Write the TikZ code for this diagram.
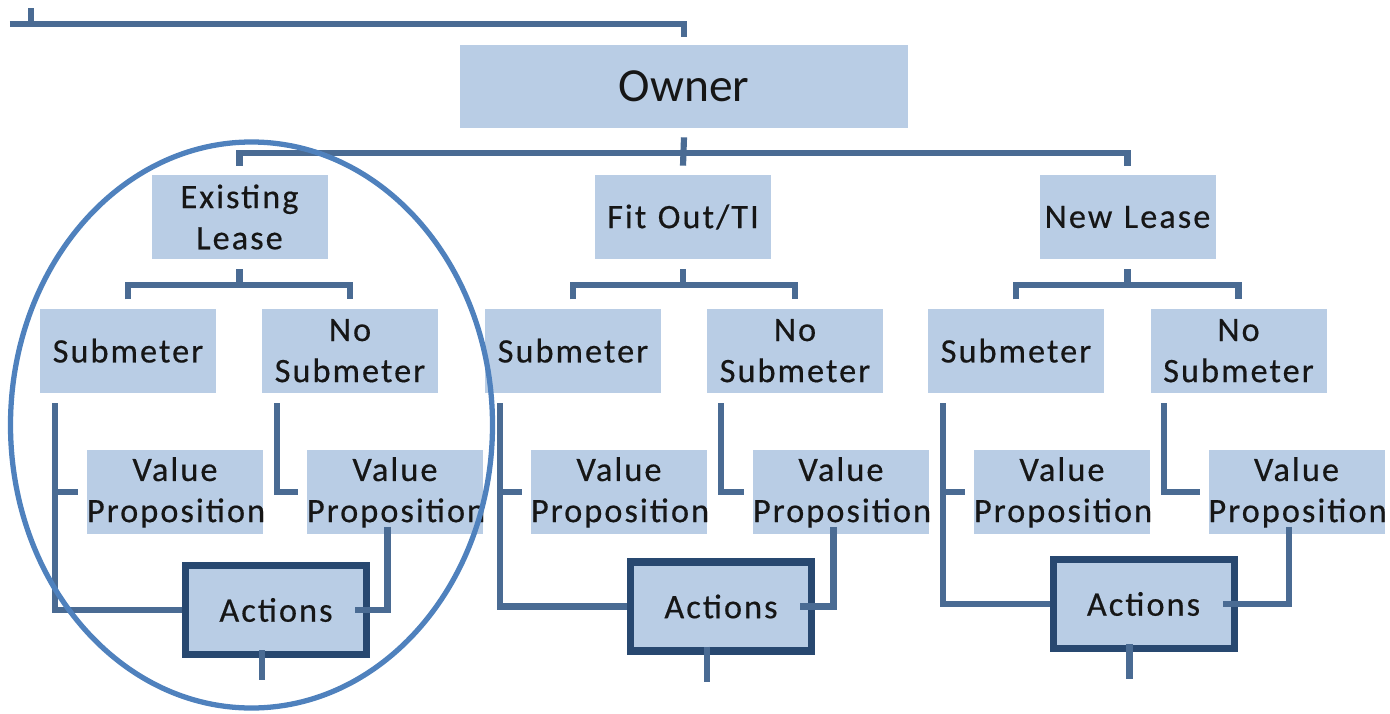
\documentclass[tikz,border=0pt]{standalone}
\usepackage{fontspec}
\setmainfont{Carlito}
\newfontfamily\chartfont[LetterSpace=6,FakeBold=0.4]{Carlito}
\usetikzlibrary{positioning}
\definecolor{boxblue}{HTML}{B9CDE5}
\definecolor{linkblue}{HTML}{4A6B93}
\definecolor{actnavy}{HTML}{284870}
\definecolor{ringblue}{HTML}{4F81BD}
\definecolor{inkdark}{HTML}{161616}

\begin{document}
\begin{tikzpicture}[
  font=\chartfont\fontsize{19.5}{23.4}\selectfont, text=inkdark,
  box/.style={fill=boxblue,align=center,inner sep=0pt,
              text width=35.2mm,minimum height=16.8mm},
  head/.style={box,font=\normalfont\fontsize{27}{33}\selectfont,
               text width=89.6mm,minimum height=16.6mm},
  act/.style={box,draw=actnavy,line width=4pt,text width=36.2mm,minimum height=17.8mm},
  link/.style={draw=linkblue,line width=3.5pt},
  ring/.style={draw=ringblue,line width=3pt},
]
\useasboundingbox (0,0) rectangle (27.8,-14.26);

\node[head] (owner) at (13.68,-1.73) {Owner};

% ---- existing lease
\node[box] (exist) at (4.79,-4.34) {Existing\\Lease};
\node[box,below=9.8mm of exist,xshift=-22.3mm] (esub) {Submeter};
\node[box,below=9.8mm of exist,xshift=22.1mm] (enos) {No\\Submeter};
\node[box,below=11.4mm of esub,xshift=9.4mm] (evs) {Value\\Proposition};
\node[box,below=11.4mm of enos,xshift=9mm] (evn) {Value\\Proposition};
\node[act] (eact) at (5.52,-12.2) {Actions};

% ---- fit out
\node[box] (fit) at (13.66,-4.34) {Fit Out/TI};
\node[box,below=9.8mm of fit,xshift=-22mm] (fsub) {Submeter};
\node[box,below=9.8mm of fit,xshift=22.4mm] (fnos) {No\\Submeter};
\node[box,below=11.4mm of fsub,xshift=9.2mm] (fvs) {Value\\Proposition};
\node[box,below=11.4mm of fnos,xshift=9.2mm] (fvn) {Value\\Proposition};
\node[act] (fact) at (14.42,-12.13) {Actions};

% ---- new lease
\node[box] (newl) at (22.55,-4.34) {New Lease};
\node[box,below=9.8mm of newl,xshift=-22.3mm] (nsub) {Submeter};
\node[box,below=9.8mm of newl,xshift=22.2mm] (nnos) {No\\Submeter};
\node[box,below=11.4mm of nsub,xshift=9.2mm] (nvs) {Value\\Proposition};
\node[box,below=11.4mm of nnos,xshift=11.6mm] (nvn) {Value\\Proposition};
\node[act] (nact) at (22.87,-12.08) {Actions};

% ---- trunk above the owner
\coordinate (trunk) at (0.2,-0.48);
\coordinate (tick) at (0.62,-0.16);
\draw[link] (trunk) -| ([yshift=1.6mm]owner.north);
\draw[link] (tick) -- (tick |- trunk);

% owner to the three lease cases
\draw[link] ([yshift=1.8mm]exist.north) |- ([yshift=-5mm]owner.south) -| ([yshift=1.8mm]newl.north);
\draw[link] ([yshift=-1.8mm]owner.south) -- ([yshift=1.8mm]fit.north);

% existing lease branch
\draw[link] ([yshift=1.8mm]esub.north) |- ([yshift=-5.2mm]exist.south) -| ([yshift=1.8mm]enos.north);
\draw[link] ([yshift=-2mm]exist.south) -- ([yshift=-5.2mm]exist.south);
\coordinate (ebus) at ([xshift=3mm,yshift=-2mm]esub.south west);
\draw[link] (ebus) |- (eact.west);
\draw[link] (ebus |- evs.west) -- ([xshift=-1.7mm]evs.west);
\draw[link] ([xshift=3mm,yshift=-2mm]enos.south west) |- ([xshift=-1.7mm]evn.west);
\draw[link] ([xshift=-1.5mm,yshift=1.6mm]evn.south) |- ([xshift=-3mm]eact.east);
\draw[link] ([xshift=-2.8mm,yshift=1.6mm]eact.south) -- ++(0,-6mm);

% fit out branch
\draw[link] ([yshift=1.8mm]fsub.north) |- ([yshift=-5.2mm]fit.south) -| ([yshift=1.8mm]fnos.north);
\draw[link] ([yshift=-2mm]fit.south) -- ([yshift=-5.2mm]fit.south);
\coordinate (fbus) at ([xshift=3mm,yshift=-2mm]fsub.south west);
\draw[link] (fbus) |- (fact.west);
\draw[link] (fbus |- fvs.west) -- ([xshift=-1.7mm]fvs.west);
\draw[link] ([xshift=2.8mm,yshift=-2mm]fnos.south west) |- ([xshift=-1.7mm]fvn.west);
\draw[link] ([xshift=-1.5mm,yshift=1.6mm]fvn.south) |- ([xshift=-3mm]fact.east);
\draw[link] ([xshift=-2.8mm,yshift=1.6mm]fact.south) -- ++(0,-7mm);

% new lease branch
\draw[link] ([yshift=1.8mm]nsub.north) |- ([yshift=-5.2mm]newl.south) -| ([yshift=1.8mm]nnos.north);
\draw[link] ([yshift=-2mm]newl.south) -- ([yshift=-5.2mm]newl.south);
\coordinate (nbus) at ([xshift=3mm,yshift=-2mm]nsub.south west);
\draw[link] (nbus) |- (nact.west);
\draw[link] (nbus |- nvs.west) -- ([xshift=-1.7mm]nvs.west);
\draw[link] ([xshift=2.8mm,yshift=-2mm]nnos.south west) |- ([xshift=-1.7mm]nvn.west);
\draw[link] ([xshift=-1.5mm,yshift=1.6mm]nvn.south) |- ([xshift=-3mm]nact.east);
\draw[link] ([xshift=-2.8mm,yshift=1.6mm]nact.south) -- ++(0,-7mm);

% ring round the existing lease case
\coordinate (focus) at (5.03,-8.5);
\draw[ring] (focus) ellipse [x radius=4.82cm, y radius=5.66cm];
\end{tikzpicture}
\end{document}
